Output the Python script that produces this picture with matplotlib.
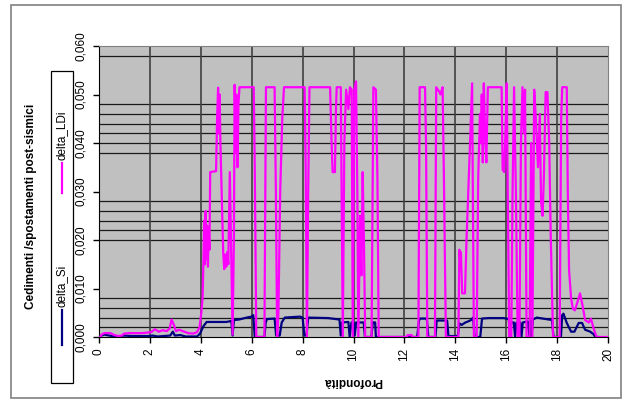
import matplotlib
matplotlib.use("Agg")
import matplotlib.pyplot as plt
from matplotlib.ticker import MultipleLocator, FuncFormatter
from matplotlib.patches import Rectangle
from matplotlib.lines import Line2D

plt.rcParams['font.family'] = ['Liberation Sans', 'DejaVu Sans']

# delta_LDi (magenta), depth / value breakpoints
x_ldi = [0.05, 0.10, 0.20, 0.45, 0.60, 0.75, 0.90, 0.98, 1.20, 1.70, 2.05, 2.20, 2.35, 2.50,
         2.66, 2.78, 2.85, 2.95, 3.02, 3.15, 3.30, 3.50, 3.70, 3.85, 3.95, 4.02, 4.07, 4.10,
         4.13, 4.16, 4.19, 4.22, 4.25, 4.28, 4.31, 4.34, 4.37, 4.60, 4.64, 4.68, 4.71, 4.74,
         4.77, 4.80, 4.84, 4.88, 4.92, 4.96, 5.00, 5.04, 5.08, 5.14, 5.20, 5.25, 5.30, 5.33,
         5.37, 5.40, 5.44, 5.48, 5.52, 6.08, 6.12, 6.18, 6.50, 6.56, 6.90, 6.95, 7.00, 7.05,
         7.12, 7.20, 7.27, 8.08, 8.12, 8.17, 8.22, 8.27, 9.08, 9.14, 9.18, 9.27, 9.31, 9.34,
         9.50, 9.58, 9.64, 9.71, 9.80, 9.86, 9.93, 9.97, 10.03, 10.10, 10.15, 10.19, 10.26,
         10.31, 10.36, 10.41, 10.46, 10.71, 10.78, 10.88, 10.94, 10.99, 12.10, 12.13, 12.28,
         12.31, 12.55, 12.60, 12.81, 12.85, 12.90, 13.20, 13.25, 13.38, 13.42, 13.50, 13.55,
         13.63, 14.12, 14.16, 14.19, 14.22, 14.27, 14.38, 14.44, 14.51, 14.58, 14.66, 14.73,
         14.84, 14.90, 14.97, 15.00, 15.04, 15.08, 15.12, 15.17, 15.22, 15.28, 15.82, 15.86,
         15.92, 15.97, 16.02, 16.06, 16.12, 16.20, 16.25, 16.31, 16.38, 16.45, 16.52, 16.58,
         16.64, 16.70, 16.74, 16.80, 16.92, 16.98, 17.03, 17.10, 17.16, 17.25, 17.32, 17.37,
         17.43, 17.48, 17.55, 17.62, 17.69, 17.75, 17.84, 18.10, 18.16, 18.20, 18.38, 18.42,
         18.47, 18.55, 18.62, 18.70, 18.80, 18.90, 19.00, 19.10, 19.25, 19.33, 19.45, 19.55,
         19.95]
y_ldi = [0.0000, 0.0005, 0.0008, 0.0008, 0.0004, 0.0002, 0.0003, 0.0007, 0.0008, 0.0008,
         0.0010, 0.0016, 0.0011, 0.0014, 0.0012, 0.0018, 0.0036, 0.0024, 0.0012, 0.0015,
         0.0012, 0.0008, 0.0007, 0.0010, 0.0020, 0.0050, 0.0080, 0.0150, 0.0240, 0.0150,
         0.0260, 0.0160, 0.0230, 0.0145, 0.0220, 0.0180, 0.0340, 0.0342, 0.0450, 0.0514,
         0.0420, 0.0500, 0.0400, 0.0340, 0.0260, 0.0175, 0.0140, 0.0170, 0.0145, 0.0175,
         0.0150, 0.0340, 0.0150, 0.0005, 0.0200, 0.0520, 0.0380, 0.0500, 0.0350, 0.0480,
         0.0515, 0.0515, 0.0350, 0.0000, 0.0000, 0.0515, 0.0515, 0.0300, 0.0000, 0.0050,
         0.0300, 0.0450, 0.0515, 0.0515, 0.0350, 0.0000, 0.0300, 0.0515, 0.0515, 0.0400,
         0.0340, 0.0340, 0.0470, 0.0515, 0.0515, 0.0000, 0.0400, 0.0510, 0.0470, 0.0515,
         0.0510, 0.0000, 0.0510, 0.0527, 0.0300, 0.0000, 0.0250, 0.0127, 0.0340, 0.0196,
         0.0000, 0.0000, 0.0515, 0.0510, 0.0330, 0.0000, 0.0000, 0.0004, 0.0004, 0.0000,
         0.0000, 0.0515, 0.0515, 0.0400, 0.0000, 0.0000, 0.0515, 0.0505, 0.0500, 0.0515,
         0.0340, 0.0000, 0.0000, 0.0180, 0.0160, 0.0175, 0.0090, 0.0090, 0.0200, 0.0300,
         0.0400, 0.0523, 0.0000, 0.0000, 0.0330, 0.0460, 0.0400, 0.0500, 0.0360, 0.0523,
         0.0420, 0.0360, 0.0515, 0.0515, 0.0345, 0.0340, 0.0420, 0.0523, 0.0300, 0.0000,
         0.0000, 0.0300, 0.0515, 0.0300, 0.0000, 0.0000, 0.0400, 0.0515, 0.0420, 0.0510,
         0.0000, 0.0000, 0.0400, 0.0000, 0.0510, 0.0455, 0.0350, 0.0460, 0.0280, 0.0250,
         0.0330, 0.0505, 0.0505, 0.0400, 0.0210, 0.0000, 0.0000, 0.0450, 0.0515, 0.0515,
         0.0300, 0.0138, 0.0080, 0.0058, 0.0055, 0.0072, 0.0090, 0.0065, 0.0035, 0.0030,
         0.0038, 0.0015, 0.0000, 0.0000]

# delta_Si (navy)
x_si = [0.05, 0.10, 0.20, 0.40, 0.60, 0.85, 0.95, 1.30, 2.00, 2.10, 2.30, 2.80, 2.90, 2.98,
        3.20, 3.40, 3.85, 3.97, 4.10, 4.23, 4.60, 5.00, 5.20, 5.25, 5.30, 5.50, 5.80, 6.00,
        6.06, 6.12, 6.50, 6.55, 6.60, 6.90, 6.96, 7.10, 7.18, 7.30, 7.90, 8.00, 8.07, 8.15,
        8.22, 9.00, 9.45, 9.50, 9.55, 9.80, 9.85, 9.92, 10.00, 10.05, 10.10, 10.40, 10.45,
        10.70, 10.76, 10.85, 10.88, 12.50, 12.58, 12.62, 12.88, 12.94, 13.22, 13.27, 13.68,
        13.73, 14.10, 14.16, 14.25, 14.40, 14.50, 14.62, 14.70, 14.76, 14.98, 15.05, 15.30,
        15.90, 16.10, 16.15, 16.20, 16.30, 16.35, 16.40, 16.55, 16.60, 16.65, 16.85, 16.92,
        16.97, 17.00, 17.05, 17.20, 17.80, 17.86, 18.15, 18.20, 18.25, 18.38, 18.55, 18.68,
        18.85, 18.98, 19.10, 19.30, 19.43, 19.50, 19.60]
y_si = [0.0000, 0.0003, 0.0005, 0.0003, 0.0001, 0.0000, 0.0003, 0.0002, 0.0002, 0.0003,
        0.0001, 0.0003, 0.0011, 0.0003, 0.0004, 0.0001, 0.0001, 0.0007, 0.0022, 0.0031,
        0.0031, 0.0031, 0.0033, 0.0003, 0.0035, 0.0036, 0.0040, 0.0042, 0.0045, 0.0000,
        0.0000, 0.0030, 0.0037, 0.0038, 0.0003, 0.0003, 0.0030, 0.0040, 0.0042, 0.0040,
        0.0003, 0.0003, 0.0040, 0.0039, 0.0036, 0.0003, 0.0030, 0.0031, 0.0000, 0.0030,
        0.0030, 0.0003, 0.0030, 0.0030, 0.0000, 0.0000, 0.0030, 0.0030, 0.0000, 0.0000,
        0.0035, 0.0038, 0.0038, 0.0000, 0.0000, 0.0034, 0.0034, 0.0002, 0.0002, 0.0028,
        0.0025, 0.0030, 0.0032, 0.0035, 0.0040, 0.0000, 0.0000, 0.0038, 0.0039, 0.0039,
        0.0037, 0.0000, 0.0030, 0.0030, 0.0000, 0.0030, 0.0030, 0.0000, 0.0030, 0.0032,
        0.0000, 0.0033, 0.0003, 0.0036, 0.0040, 0.0035, 0.0000, 0.0000, 0.0045, 0.0048,
        0.0029, 0.0011, 0.0011, 0.0029, 0.0029, 0.0015, 0.0011, 0.0006, 0.0000, 0.0000]

# horizontal reference lines drawn across the plot area
ref_levels = [0.002, 0.004, 0.006, 0.008, 0.020, 0.022, 0.024, 0.026, 0.028,
              0.038, 0.040, 0.042, 0.044, 0.046, 0.048, 0.058]

fig = plt.figure(figsize=(6.28, 4.01), dpi=100)
fig.patch.set_facecolor('white')
ax = fig.add_axes([99/628, 1-337/401, 509/628, 291/401])
ax.set_facecolor('#c0c0c0')

# outer chart border
fig.add_artist(Rectangle((11/628, 3/401), 610/628, 393/401, transform=fig.transFigure,
                         fill=False, edgecolor='#808080', linewidth=1.2))

for lv in ref_levels:
    ax.axhline(lv, color='#1a1a1a', linewidth=0.9, zorder=1)
for xv in range(2, 20, 2):
    ax.axvline(xv, color='#404040', linewidth=1.2, zorder=1)

ax.plot(x_si, y_si, color='#000080', linewidth=1.6, zorder=3)
ax.plot(x_ldi, y_ldi, color='#ff00ff', linewidth=1.6, zorder=4)

ax.set_xlim(0, 20)
ax.set_ylim(0, 0.060)
ax.xaxis.set_major_locator(MultipleLocator(2))
ax.yaxis.set_major_locator(MultipleLocator(0.010))
ax.yaxis.set_major_formatter(FuncFormatter(lambda v, p: f"{v:.3f}".replace('.', ',')))
ax.tick_params(axis='both', direction='out', length=4, width=1, color='black',
               labelsize=8.5)
ax.tick_params(axis='y', pad=5)
ax.tick_params(axis='x', pad=4)
for lab in ax.get_yticklabels():
    lab.set_rotation(90)
    lab.set_va('center')
for lab in ax.get_xticklabels():
    lab.set_rotation(90)
    lab.set_ha('center')

ax.spines['left'].set_color('black')
ax.spines['bottom'].set_color('black')
ax.spines['top'].set_color('#808080')
ax.spines['right'].set_color('#808080')

fig.text(353/628, 1-381/401, 'Profondità', rotation=180, ha='center', va='center',
         fontsize=8.5, fontweight='bold')
fig.text(31/628, 1-206/401, 'Cedimenti /spostamenti post-sismici', rotation=90,
         ha='center', va='center', fontsize=8.5, fontweight='bold')

# rotated legend box
fig.add_artist(Rectangle((51/628, 1-383/401), 22/628, 312/401, transform=fig.transFigure,
                         facecolor='white', edgecolor='black', linewidth=0.9))
fig.add_artist(Line2D([62/628, 62/628], [1-193/401, 1-163/401], transform=fig.transFigure,
                      color='#ff00ff', linewidth=1.6))
fig.text(62/628, 1-160/401, 'delta_LDi', rotation=90, ha='center', va='bottom', fontsize=8.5)
fig.add_artist(Line2D([62/628, 62/628], [1-345/401, 1-310/401], transform=fig.transFigure,
                      color='#000080', linewidth=1.6))
fig.text(62/628, 1-307/401, 'delta_Si', rotation=90, ha='center', va='bottom', fontsize=8.5)

fig.savefig('out.png', dpi=100)
